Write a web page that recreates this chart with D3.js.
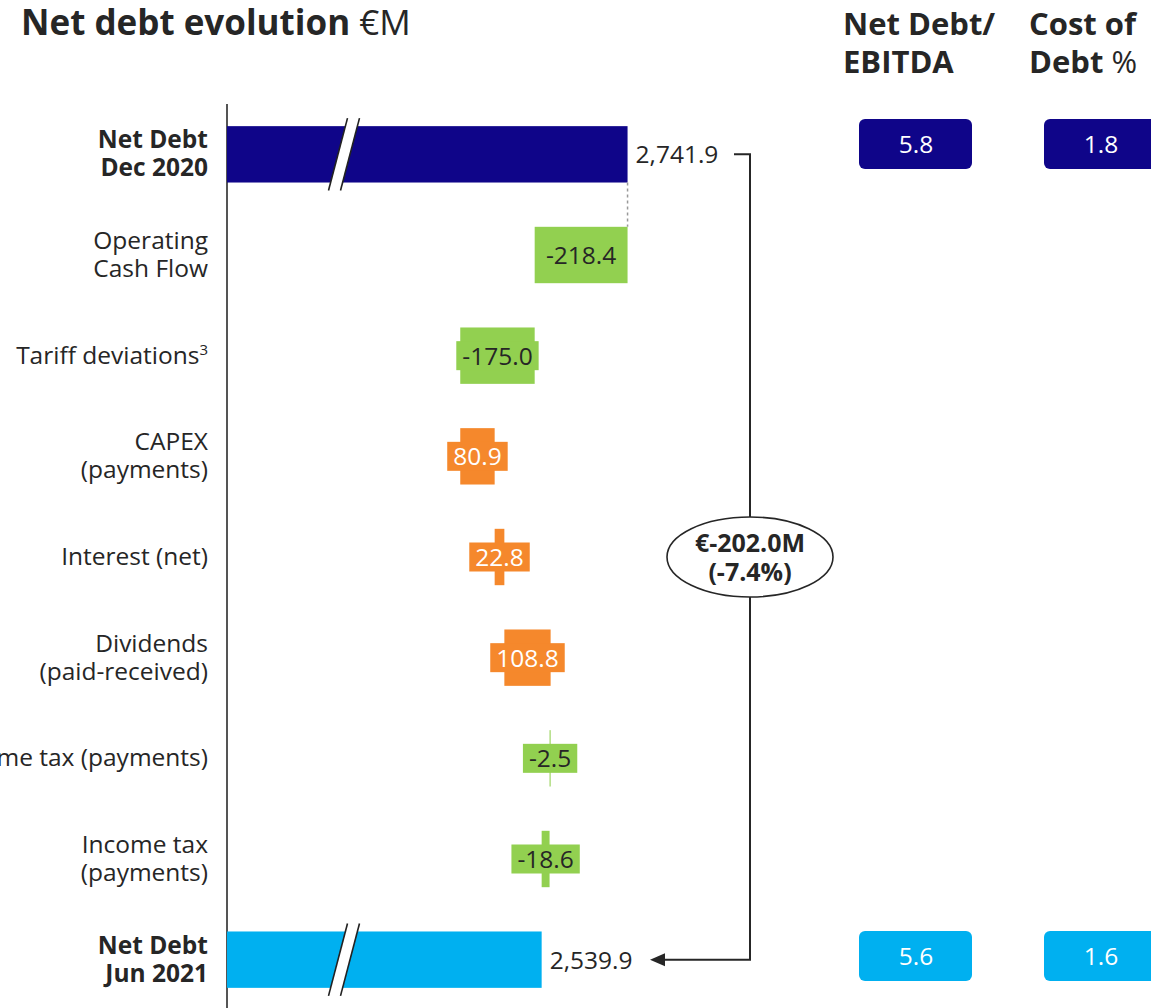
<!DOCTYPE html>
<html><head><meta charset="utf-8">
<script src="https://cdn.jsdelivr.net/npm/d3@7"></script>
<style>
html,body{margin:0;padding:0;background:#fff;overflow:hidden}
svg{display:block;font-family:"Open Sans","Noto Sans",sans-serif}
</style></head>
<body>
<svg id="c" width="1151" height="1008"></svg>
<script>
// ---- data ----
const categories = ["Net Debt\nDec 2020","Operating\nCash Flow","Tariff deviations","CAPEX\n(payments)","Interest (net)","Dividends\n(paid-received)","Income tax (payments)","Income tax\n(payments)","Net Debt\nJun 2021"];
const values = [2741.9,-218.4,-175.0,80.9,22.8,108.8,-2.5,-18.6,2539.9];
const kinds = ["total","delta","delta","delta","delta","delta","delta","delta","total"];
const superscripts = ["","","3","","","","","",""];
const netDebtEbitda = [5.8,5.6];
const costOfDebt = [1.8,1.6];
const changeLabel = ["€-202.0M","(-7.4%)"];

const C = {navy:"#0f0589", sky:"#00b0f0", green:"#92d050", orange:"#f5882c", text:"#262626"};
const svg = d3.select("#c");
const FS = "24.5px";

// scales
const x = d3.scaleLinear().domain([1800,2750]).range([227,631]);
const y = d3.scaleBand().domain(categories).range([104,1010]).paddingInner(0.44).paddingOuter(0.22);

// compute waterfall extents
let run = 0;
const bars = categories.map((c,i)=>{
  let x0,x1;
  if(kinds[i]==="total"){ x0=1800; x1=values[i]; run=values[i]; }
  else { x0=run; x1=run+values[i]; run=x1; }
  return {c,i,v:values[i],x0:Math.min(x0,x1),x1:Math.max(x0,x1),kind:kinds[i]};
});
const colorOf = d => d.kind==="total" ? (d.i===0?C.navy:C.sky) : (d.v<0?C.green:C.orange);

// title
const t = svg.append("text").attr("x",21).attr("y",35).attr("fill",C.text).style("font-size","35px");
t.append("tspan").attr("font-weight","bold").text("Net debt evolution");
t.append("tspan").text(" €M");

// column headers
const h1 = svg.append("g").attr("fill",C.text).style("font-size","31px").attr("font-weight","bold");
h1.append("text").attr("x",843).attr("y",35).text("Net Debt/");
h1.append("text").attr("x",843).attr("y",73).text("EBITDA");
h1.append("text").attr("x",1029).attr("y",35).text("Cost of");
const h2=h1.append("text").attr("x",1029).attr("y",73);
h2.append("tspan").text("Debt ");
h2.append("tspan").attr("font-weight","normal").text("%");

// axis (category line)
const ax = svg.append("g").attr("transform","translate(227,0)")
  .call(d3.axisLeft(y).tickSize(0).tickFormat(""));
ax.select(".domain").attr("stroke","#555").attr("stroke-width",2).attr("d","M0,104V1008");

// category labels
const lab = svg.append("g").attr("fill",C.text).style("font-size",FS).attr("text-anchor","end");
categories.forEach((c,i)=>{
  const lines=c.split("\n");
  const cy=y(c)+y.bandwidth()/2;
  const tx=lab.append("text").attr("x",208).attr("font-weight",kinds[i]==="total"?"bold":"normal");
  lines.forEach((ln,k)=>{
    tx.append("tspan").attr("x",208).attr("y",cy+8+(k-(lines.length-1)/2)*28).text(ln);
    if(k===lines.length-1 && superscripts[i]){
      tx.append("tspan").attr("dy",-9).style("font-size","15px").text(superscripts[i]);
    }
  });
});

// bars
const g = svg.append("g");
g.selectAll("rect.bar").data(bars).join("rect").attr("class","bar")
  .attr("x",d=>x(d.x0)).attr("y",d=>y(d.c))
  .attr("width",d=>Math.max(1,x(d.x1)-x(d.x0))).attr("height",y.bandwidth())
  .attr("fill",colorOf);

// dashed connector
svg.append("line").attr("x1",x(values[0])).attr("x2",x(values[0]))
  .attr("y1",y(categories[0])+y.bandwidth()).attr("y2",y(categories[1]))
  .attr("stroke","#999").attr("stroke-width",1.5).attr("stroke-dasharray","3,3");

// axis break marks
bars.filter(d=>d.kind==="total").forEach(d=>{
  const top=y(d.c)-8, bot=y(d.c)+y.bandwidth()+8;
  const xa=328.5, xb=347.5, gap=12;
  svg.append("path").attr("d",`M${xb},${top}L${xb+gap},${top}L${xa+gap},${bot}L${xa},${bot}Z`).attr("fill","#fff");
  [0,gap].forEach(o=>svg.append("line").attr("x1",xa+o).attr("y1",bot).attr("x2",xb+o).attr("y2",top)
    .attr("stroke","#222").attr("stroke-width",1.6));
});

// delta labels with boxes
bars.filter(d=>d.kind==="delta").forEach(d=>{
  const cx=(x(d.x0)+x(d.x1))/2, cy=y(d.c)+y.bandwidth()/2;
  const gg=svg.append("g");
  const r=gg.append("rect").attr("fill",colorOf(d));
  const tx=gg.append("text").attr("x",cx).attr("y",cy+9).attr("text-anchor","middle")
    .style("font-size",FS).attr("fill",d.v<0?C.text:"#fff").text(d.v.toFixed(1));
  const w=tx.node().getComputedTextLength()+12;
  r.attr("x",cx-w/2).attr("y",cy-14.5).attr("width",w).attr("height",29);
});

// total labels
const fmt=d3.format(",.1f");
bars.filter(d=>d.kind==="total").forEach(d=>{
  svg.append("text").attr("x",x(d.x1)+8).attr("y",y(d.c)+y.bandwidth()/2+9)
    .style("font-size",FS).attr("fill",C.text).text(fmt(d.v));
});

// bracket with arrow
const yA=y(categories[0])+y.bandwidth()/2, yB=y(categories[8])+y.bandwidth()/2;
const bx=750;
svg.append("path").attr("d",`M734,${yA}H${bx}V${yB}H662`).attr("fill","none")
  .attr("stroke",C.text).attr("stroke-width",2);
svg.append("path").attr("d",`M650,${yB}L665,${yB-6.5}L665,${yB+6.5}Z`).attr("fill",C.text);
const ey=557;
svg.append("ellipse").attr("cx",bx).attr("cy",ey).attr("rx",83).attr("ry",40)
  .attr("fill","#fff").attr("stroke",C.text).attr("stroke-width",1.6);
svg.append("text").attr("x",bx).attr("y",ey-5).attr("text-anchor","middle").attr("font-weight","bold")
  .style("font-size","25px").attr("fill",C.text).text(changeLabel[0]);
svg.append("text").attr("x",bx).attr("y",ey+24).attr("text-anchor","middle").attr("font-weight","bold")
  .style("font-size","25px").attr("fill",C.text).text(changeLabel[1]);

// pills
const pillTop=[119,931];
[0,1].forEach(k=>{
  const col=k===0?C.navy:C.sky;
  [[859,netDebtEbitda[k]],[1044,costOfDebt[k]]].forEach(([px,v])=>{
    svg.append("rect").attr("x",px).attr("y",pillTop[k]).attr("width",113).attr("height",50).attr("rx",6).attr("fill",col);
    svg.append("text").attr("x",px+57).attr("y",pillTop[k]+34).attr("text-anchor","middle").style("font-size",FS)
      .attr("fill","#fff").text(v.toFixed(1));
  });
});
</script>
</body></html>
